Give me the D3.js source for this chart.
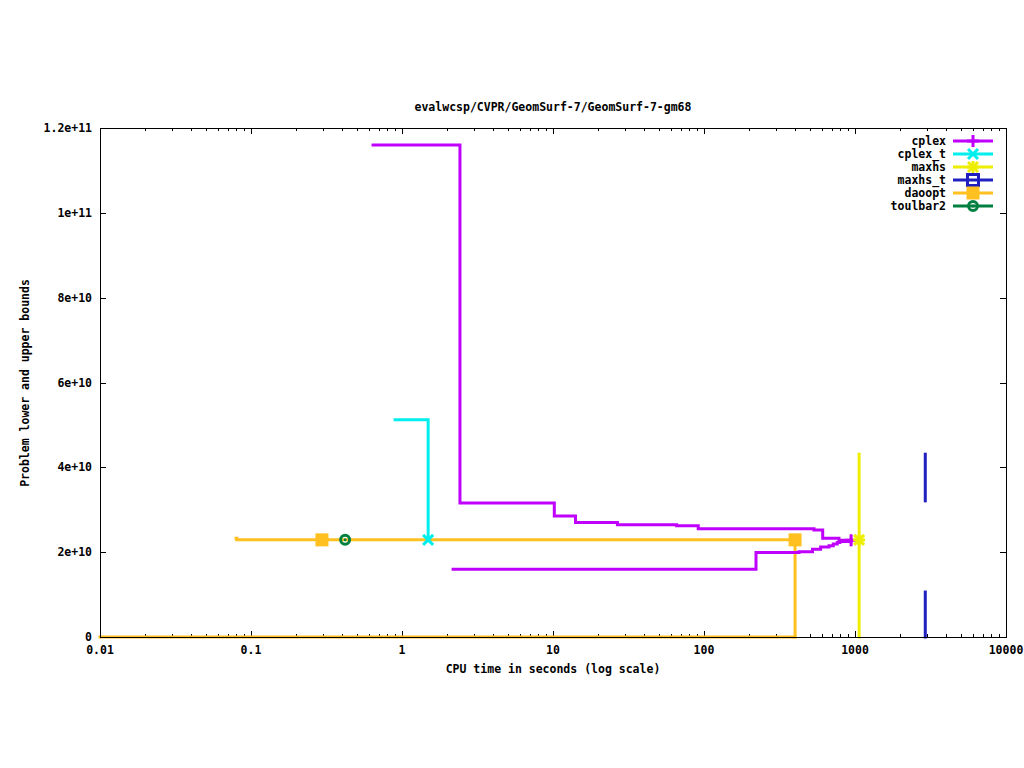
<!DOCTYPE html>
<html><head><meta charset="utf-8">
<script src="https://cdn.jsdelivr.net/npm/d3@7"></script>
<style>body{margin:0;background:#fff}svg{display:block}text{font-family:"DejaVu Sans Mono",monospace;font-size:11.5px;font-weight:bold;fill:#000}</style>
</head><body>
<script>
const title = "evalwcsp/CVPR/GeomSurf-7/GeomSurf-7-gm68";
const xTicks = [0.01, 0.1, 1, 10, 100, 1000, 10000];
const xTickLabels = ["0.01", "0.1", "1", "10", "100", "1000", "10000"];
const yTicks = [0, 2e10, 4e10, 6e10, 8e10, 1e11, 1.2e11];
const yTickLabels = ["0", "2e+10", "4e+10", "6e+10", "8e+10", "1e+11", "1.2e+11"];
const seriesNames = ["cplex", "cplex_t", "maxhs", "maxhs_t", "daoopt", "toulbar2"];
const seriesColors = ["#c000ff", "#00eeee", "#eeee00", "#2020c0", "#ffc020", "#008040"];

// cplex
const cplexUpperT = [0.643, 2.42, 10.2, 14.1, 26.7, 65.9, 91.6, 535, 611, 783, 942];
const cplexUpperV = [1.16e11, 3.16e10, 2.85e10, 2.70e10, 2.645e10, 2.62e10, 2.55e10, 2.52e10, 2.33e10, 2.28e10, 2.28e10];
const cplexLowerT = [2.18, 221, 426, 523, 592, 673, 718, 763, 794, 942];
const cplexLowerV = [1.60e10, 1.99e10, 2.01e10, 2.07e10, 2.12e10, 2.15e10, 2.19e10, 2.23e10, 2.25e10, 2.28e10];
const cplexMarkT = [942], cplexMarkV = [2.28e10];
// cplex_t
const cplexTUpperT = [0.9, 1.49];
const cplexTUpperV = [5.12e10, 2.29e10];
const cplexTMarkT = [1.49], cplexTMarkV = [2.29e10];
// maxhs
const maxhsSegT = [1065, 1065];
const maxhsSegV = [4.31e10, 0];
const maxhsMarkT = [1065], maxhsMarkV = [2.29e10];
// maxhs_t
const maxhsTUpperT = [2920, 2920], maxhsTUpperV = [4.31e10, 3.21e10];
const maxhsTLowerT = [2920, 2920], maxhsTLowerV = [1.06e10, 0];
// daoopt
const daooptUpperT = [0.0796, 0.0805, 401, 401];
const daooptUpperV = [2.33e10, 2.29e10, 2.29e10, 0];
const daooptLowerT = [0.01, 401];
const daooptLowerV = [0, 0];
const daooptMarkT = [0.295, 401], daooptMarkV = [2.29e10, 2.29e10];
// toulbar2
const toulbarMarkT = [0.42], toulbarMarkV = [2.29e10];

const W = 1024, H = 768;
const L = 100, R = 1006, T = 128, B = 637;
const svg = d3.select("body").append("svg").attr("width", W).attr("height", H);
const x = d3.scaleLog().domain([0.01, 10000]).range([L, R]);
const y = d3.scaleLinear().domain([0, 1.2e11]).range([B, T]);

// ticks (inward, mirrored)
const g = svg.append("g").attr("stroke", "#000").attr("stroke-width", 1).attr("shape-rendering", "crispEdges");
const minor = [];
for (let d = -2; d < 4; d++) for (let k = 2; k <= 9; k++) minor.push(k * Math.pow(10, d));
minor.forEach(v => {
  g.append("line").attr("x1", Math.round(x(v)) + .5).attr("x2", Math.round(x(v)) + .5).attr("y1", B).attr("y2", B - 3);
  g.append("line").attr("x1", Math.round(x(v)) + .5).attr("x2", Math.round(x(v)) + .5).attr("y1", T).attr("y2", T + 3);
});
xTicks.forEach(v => {
  g.append("line").attr("x1", Math.round(x(v)) + .5).attr("x2", Math.round(x(v)) + .5).attr("y1", B).attr("y2", B - 6);
  g.append("line").attr("x1", Math.round(x(v)) + .5).attr("x2", Math.round(x(v)) + .5).attr("y1", T).attr("y2", T + 6);
});
yTicks.forEach(v => {
  g.append("line").attr("x1", L).attr("x2", L + 6).attr("y1", Math.round(y(v)) + .5).attr("y2", Math.round(y(v)) + .5);
  g.append("line").attr("x1", R).attr("x2", R - 6).attr("y1", Math.round(y(v)) + .5).attr("y2", Math.round(y(v)) + .5);
});
xTicks.forEach((v, i) => svg.append("text").attr("x", x(v)).attr("y", 654).attr("text-anchor", "middle").text(xTickLabels[i]));
yTicks.forEach((v, i) => svg.append("text").attr("x", 92).attr("y", y(v) + 4).attr("text-anchor", "end").text(yTickLabels[i]));

svg.append("text").attr("x", 553).attr("y", 111).attr("text-anchor", "middle").text(title);
svg.append("text").attr("x", 553).attr("y", 673).attr("text-anchor", "middle").text("CPU time in seconds (log scale)");
svg.append("text").attr("transform", "translate(29,383) rotate(-90)").attr("text-anchor", "middle").text("Problem lower and upper bounds");

const plot = svg.append("g");
const step = d3.line().x(d => x(d[0])).y(d => y(d[1])).curve(d3.curveStepAfter);
const straight = d3.line().x(d => x(d[0])).y(d => y(d[1]));
const zip = (a, b) => a.map((t, i) => [t, b[i]]);
function path(gen, data, color) {
  plot.append("path").attr("d", gen(data)).attr("fill", "none").attr("stroke", color).attr("stroke-width", 3).attr("stroke-linejoin", "miter").attr("stroke-linecap", "square");
}

// markers
function marker(sel, type, cx, cy, color) {
  const s = 6;
  const gg = sel.append("g").attr("stroke", color).attr("fill", color).attr("stroke-width", 3);
  if (type === "plus" || type === "star") {
    gg.append("line").attr("x1", cx - s).attr("x2", cx + s).attr("y1", cy).attr("y2", cy);
    gg.append("line").attr("x1", cx).attr("x2", cx).attr("y1", cy - s).attr("y2", cy + s);
  }
  if (type === "cross" || type === "star") {
    const c = 5;
    gg.append("line").attr("x1", cx - c).attr("x2", cx + c).attr("y1", cy - c).attr("y2", cy + c);
    gg.append("line").attr("x1", cx - c).attr("x2", cx + c).attr("y1", cy + c).attr("y2", cy - c);
  }
  if (type === "osquare") {
    gg.append("rect").attr("x", cx - 5.5).attr("y", cy - 5.5).attr("width", 11).attr("height", 11).attr("fill", "none");
  }
  if (type === "fsquare") {
    gg.append("rect").attr("x", cx - 6.5).attr("y", cy - 6.5).attr("width", 13).attr("height", 13).attr("stroke", "none");
  }
  if (type === "circle") {
    gg.append("circle").attr("cx", cx).attr("cy", cy).attr("r", 4.5).attr("fill", "none");
    gg.append("circle").attr("cx", cx).attr("cy", cy).attr("r", 1.5).attr("stroke", "none");
  }
}

// daoopt
path(straight, zip(daooptLowerT, daooptLowerV), seriesColors[4]);
path(step, zip(daooptUpperT, daooptUpperV), seriesColors[4]);
// cplex
path(step, zip(cplexUpperT, cplexUpperV), seriesColors[0]);
path(step, zip(cplexLowerT, cplexLowerV), seriesColors[0]);
// cplex_t
path(step, zip(cplexTUpperT, cplexTUpperV), seriesColors[1]);
// maxhs
path(straight, zip(maxhsSegT, maxhsSegV), seriesColors[2]);
// maxhs_t
path(straight, zip(maxhsTUpperT, maxhsTUpperV), seriesColors[3]);
path(straight, zip(maxhsTLowerT, maxhsTLowerV), seriesColors[3]);

daooptMarkT.forEach((t, i) => marker(plot, "fsquare", x(t), y(daooptMarkV[i]), seriesColors[4]));
cplexMarkT.forEach((t, i) => marker(plot, "plus", x(t), y(cplexMarkV[i]), seriesColors[0]));
cplexTMarkT.forEach((t, i) => marker(plot, "cross", x(t), y(cplexTMarkV[i]), seriesColors[1]));
toulbarMarkT.forEach((t, i) => marker(plot, "circle", x(t), y(toulbarMarkV[i]), seriesColors[5]));
maxhsMarkT.forEach((t, i) => marker(plot, "star", x(t), y(maxhsMarkV[i]), seriesColors[2]));

// legend
const mtypes = ["plus", "cross", "star", "osquare", "fsquare", "circle"];
seriesNames.forEach((n, i) => {
  const ly = 141 + i * 13;
  svg.append("text").attr("x", 946).attr("y", ly + 4).attr("text-anchor", "end").text(n);
  svg.append("line").attr("x1", 953).attr("x2", 993).attr("y1", ly).attr("y2", ly).attr("stroke", seriesColors[i]).attr("stroke-width", 3);
  marker(svg, mtypes[i], 973, ly, seriesColors[i]);
});

// frame
svg.append("rect").attr("x", L + .5).attr("y", T + .5).attr("width", R - L).attr("height", B - T).attr("fill", "none").attr("stroke", "#000").attr("shape-rendering", "crispEdges");
</script>
</body></html>
